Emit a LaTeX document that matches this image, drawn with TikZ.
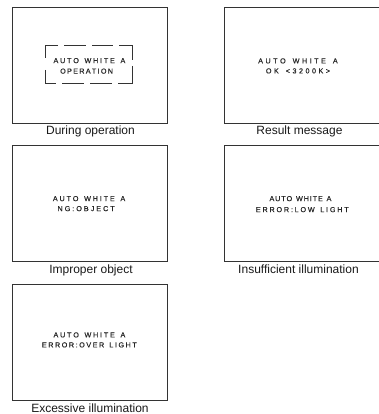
\documentclass[tikz,border=0pt]{standalone}
\usepackage{fontspec}
\setmainfont{Liberation Sans}
\newfontfamily\lcdfont[FakeBold=0.6]{Liberation Sans}
\newcommand\lcd[2]{\def\lcdt{#1}\lcdloop#2\relax\kern-\lcdt\relax}
\def\lcdloop#1{\ifx#1\relax\else#1\kern\lcdt\relax\expandafter\lcdloop\fi}
\begin{document}
\begin{tikzpicture}[x=1pt,y=-1pt,
  scr/.style={draw=black!80, line width=1pt, minimum width=155pt, minimum height=116pt, anchor=north west, inner sep=0pt},
  lcdtxt/.style={font=\lcdfont\fontsize{7.2}{8}\selectfont, text=black!85, inner sep=0pt, anchor=base west},
  captxt/.style={font=\fontsize{12}{14}\selectfont, text=black!90, inner sep=0pt, anchor=base},
  dsh/.style={draw=black!80, line width=1pt}]
\useasboundingbox (0,0) rectangle (378,414);
% screens
\node[scr] (b1) at (11.7,6.7) {};
\node[scr] (b2) at (224.3,6.7) {};
\node[scr] (b3) at (11.7,145.3) {};
\node[scr] (b4) at (224.3,145.3) {};
\node[scr] (b5) at (11.7,283.8) {};
% captions
\node[captxt] (c1) at (90.5,135) {During operation};
\node[captxt] (c2) at (299.5,135) {Result message};
\node[captxt] (c3) at (91,273.8) {Improper object};
\node[captxt] (c4) at (298.5,273.8) {Insufficient illumination};
\node[captxt] (c5) at (90,412.3) {Excessive illumination};
% screen texts
\node[lcdtxt] (t1a) at (53.3,63.1) {\lcd{1.8pt}{AUTO~WHITE~A}};
\node[lcdtxt] (t1b) at (60,73.6) {\lcd{1.3pt}{OPERATION}};
\node[lcdtxt] (t2a) at (258,63.4) {\lcd{2.5pt}{AUTO~WHITE~A}};
\node[lcdtxt] (t2b) at (265.7,73.4) {\lcd{2.5pt}{OK~<3200K>}};
\node[lcdtxt] (t3a) at (52.7,201.1) {\lcd{1.85pt}{AUTO~WHITE~A}};
\node[lcdtxt] (t3b) at (57.3,211.1) {\lcd{2pt}{NG:OBJECT}};
\node[lcdtxt] (t4a) at (269.3,201.1) {\lcd{0.9pt}{AUTO~WHITE~A}};
\node[lcdtxt] (t4b) at (255.7,212.1) {\lcd{1.8pt}{ERROR:LOW~LIGHT}};
\node[lcdtxt] (t5a) at (53.3,337.4) {\lcd{1.8pt}{AUTO~WHITE~A}};
\node[lcdtxt] (t5b) at (41.7,347.4) {\lcd{1.55pt}{ERROR:OVER~LIGHT}};
% dashed frame around "operation" message
\draw[dsh] (58,45.7) -- (45,45.7) -- (45,58.3);
\draw[dsh] (45,70) -- (45,83.5) -- (56,83.5);
\draw[dsh] (119,45.7) -- (132,45.7) -- (132,60);
\draw[dsh] (132,66) -- (132,83.5) -- (118,83.5);
\draw[dsh] (64,45.7) -- (86,45.7);
\draw[dsh] (92,45.7) -- (113,45.7);
\draw[dsh] (62,83.5) -- (84,83.5);
\draw[dsh] (90,83.5) -- (112,83.5);
\end{tikzpicture}
\end{document}
